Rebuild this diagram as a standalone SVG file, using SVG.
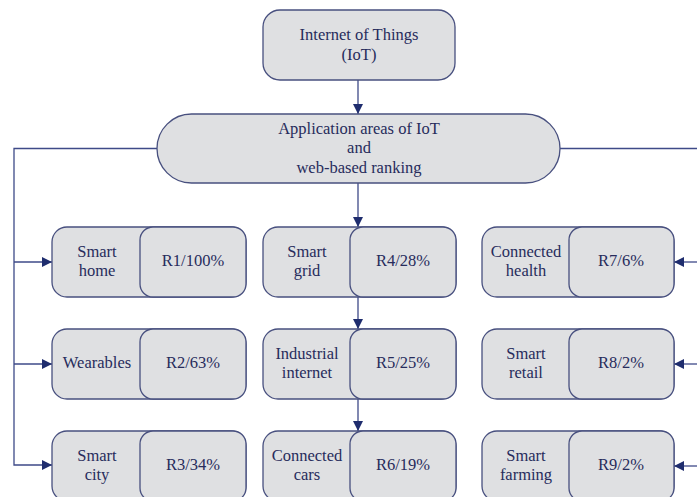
<svg xmlns="http://www.w3.org/2000/svg" width="697" height="497" viewBox="0 0 697 497">
<defs>
<marker id="ah" viewBox="0 0 10 10" refX="10" refY="5" markerWidth="10" markerHeight="10" markerUnits="userSpaceOnUse" orient="auto">
<path d="M0,0 L10,5 L0,10 z" fill="#1f2d6e"/>
</marker>
</defs>
<style>
.box{fill:#dfe0e2;stroke:#48507f;stroke-width:1.3}
.t{font-family:"Liberation Serif","Times New Roman",serif;font-size:16.5px;fill:#272c5c;text-anchor:middle}
.c{stroke:#3e4a88;stroke-width:1.3;fill:none}
</style>
<rect width="697" height="497" fill="#ffffff"/>
<g id="connectors">
<line class="c" x1="358" y1="80" x2="358" y2="114" marker-end="url(#ah)"/>
<line class="c" x1="358" y1="183" x2="358" y2="227" marker-end="url(#ah)"/>
<line class="c" x1="358" y1="297" x2="358" y2="329" marker-end="url(#ah)"/>
<line class="c" x1="358" y1="399" x2="358" y2="431" marker-end="url(#ah)"/>
<polyline class="c" points="157,148.5 14,148.5 14,465 52,465" marker-end="url(#ah)"/>
<line class="c" x1="14" y1="262" x2="52" y2="262" marker-end="url(#ah)"/>
<line class="c" x1="14" y1="364" x2="52" y2="364" marker-end="url(#ah)"/>
<polyline class="c" points="560,148.5 700,148.5"/>
<line class="c" x1="697" y1="262" x2="674" y2="262" marker-end="url(#ah)"/>
<line class="c" x1="697" y1="364" x2="674" y2="364" marker-end="url(#ah)"/>
<line class="c" x1="697" y1="466" x2="674" y2="466" marker-end="url(#ah)"/>
</g>
<g id="iot">
<rect class="box" x="263" y="10" width="192" height="70" rx="17"/>
<text class="t" x="359" y="40">Internet of Things</text>
<text class="t" x="359" y="60">(IoT)</text>
</g>
<g id="app">
<rect class="box" x="157" y="114" width="403" height="69" rx="34.5"/>
<text class="t" x="359" y="134">Application areas of IoT</text>
<text class="t" x="359" y="153">and</text>
<text class="t" x="359" y="173">web-based ranking</text>
</g>
<g id="n1">
<rect class="box" x="52" y="227" width="194" height="70" rx="15"/>
<rect class="box" x="140" y="227" width="106" height="70" rx="13"/>
<text class="t" x="97" y="257">Smart</text><text class="t" x="97" y="276">home</text>
<text class="t" x="193" y="266">R1/100%</text>
</g>
<g id="n2">
<rect class="box" x="52" y="329" width="194" height="70" rx="15"/>
<rect class="box" x="140" y="329" width="106" height="70" rx="13"/>
<text class="t" x="97" y="368">Wearables</text>
<text class="t" x="193" y="368">R2/63%</text>
</g>
<g id="n3">
<rect class="box" x="52" y="431" width="194" height="70" rx="15"/>
<rect class="box" x="140" y="431" width="106" height="70" rx="13"/>
<text class="t" x="97" y="461">Smart</text><text class="t" x="97" y="480">city</text>
<text class="t" x="193" y="470">R3/34%</text>
</g>
<g id="n4">
<rect class="box" x="263" y="227" width="193" height="70" rx="15"/>
<rect class="box" x="350" y="227" width="106" height="70" rx="13"/>
<text class="t" x="307" y="257">Smart</text><text class="t" x="307" y="276">grid</text>
<text class="t" x="403" y="266">R4/28%</text>
</g>
<g id="n5">
<rect class="box" x="263" y="329" width="193" height="70" rx="15"/>
<rect class="box" x="350" y="329" width="106" height="70" rx="13"/>
<text class="t" x="307" y="359">Industrial</text><text class="t" x="307" y="378">internet</text>
<text class="t" x="403" y="368">R5/25%</text>
</g>
<g id="n6">
<rect class="box" x="263" y="431" width="193" height="70" rx="15"/>
<rect class="box" x="350" y="431" width="106" height="70" rx="13"/>
<text class="t" x="307" y="461">Connected</text><text class="t" x="307" y="480">cars</text>
<text class="t" x="403" y="470">R6/19%</text>
</g>
<g id="n7">
<rect class="box" x="482" y="227" width="192" height="70" rx="15"/>
<rect class="box" x="569" y="227" width="105" height="70" rx="13"/>
<text class="t" x="526" y="257">Connected</text><text class="t" x="526" y="276">health</text>
<text class="t" x="621" y="266">R7/6%</text>
</g>
<g id="n8">
<rect class="box" x="482" y="329" width="192" height="70" rx="15"/>
<rect class="box" x="569" y="329" width="105" height="70" rx="13"/>
<text class="t" x="526" y="359">Smart</text><text class="t" x="526" y="378">retail</text>
<text class="t" x="621" y="368">R8/2%</text>
</g>
<g id="n9">
<rect class="box" x="482" y="431" width="192" height="70" rx="15"/>
<rect class="box" x="569" y="431" width="105" height="70" rx="13"/>
<text class="t" x="526" y="461">Smart</text><text class="t" x="526" y="480">farming</text>
<text class="t" x="621" y="470">R9/2%</text>
</g>
</svg>
